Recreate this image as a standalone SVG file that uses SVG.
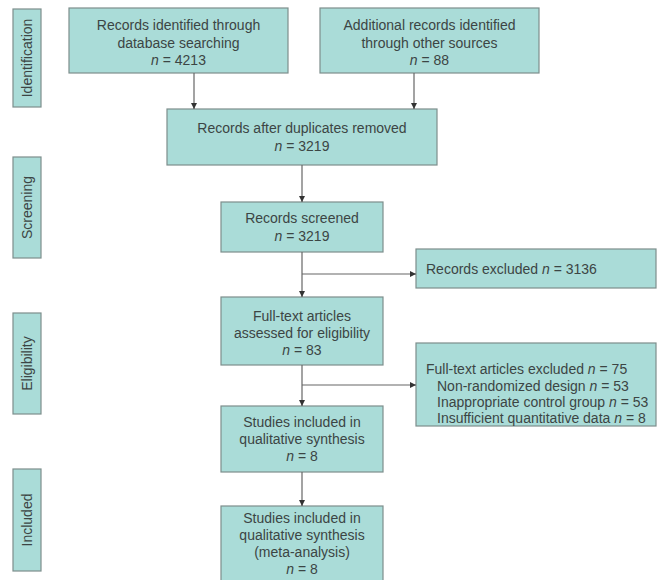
<svg xmlns="http://www.w3.org/2000/svg" width="657" height="580" viewBox="0 0 657 580">
<defs>
<style>
.box{fill:#aadcd8;stroke:#7d8e8c;stroke-width:1.2}
.t{font-family:"Liberation Sans",Arial,sans-serif;font-size:14px;fill:#3c4544}
.c{text-anchor:middle}
.i{font-style:italic}
.ln{stroke:#666;stroke-width:1.2;fill:none}
</style>
<marker id="ah" viewBox="0 0 10 10" refX="10" refY="5" markerWidth="6" markerHeight="6" orient="auto" markerUnits="userSpaceOnUse">
<path d="M0,0 L10,5 L0,10 z" fill="#333"/>
</marker>
</defs>
<rect width="657" height="580" fill="#fff"/>
<g id="stage-identification">
<rect class="box" x="13" y="9" width="28" height="98"/>
<text class="t c" transform="translate(32,58) rotate(-90)">Identification</text>
</g>
<g id="stage-screening">
<rect class="box" x="13" y="157" width="28" height="101"/>
<text class="t c" transform="translate(32,207.5) rotate(-90)">Screening</text>
</g>
<g id="stage-eligibility">
<rect class="box" x="13" y="313" width="28" height="101"/>
<text class="t c" transform="translate(32,363.5) rotate(-90)">Eligibility</text>
</g>
<g id="stage-included">
<rect class="box" x="13" y="469" width="28" height="102"/>
<text class="t c" transform="translate(32,520) rotate(-90)">Included</text>
</g>
<g id="n-database">
<rect class="box" x="69" y="8" width="219" height="65"/>
<text class="t c" x="178.5" y="30">Records identified through</text>
<text class="t c" x="178.5" y="47.5">database searching</text>
<text class="t c" x="178.5" y="65"><tspan class="i">n</tspan> = 4213</text>
</g>
<g id="n-other">
<rect class="box" x="320" y="8" width="219" height="65"/>
<text class="t c" x="429.5" y="30">Additional records identified</text>
<text class="t c" x="429.5" y="47.5">through other sources</text>
<text class="t c" x="429.5" y="65"><tspan class="i">n</tspan> = 88</text>
</g>
<g id="n-dedup">
<rect class="box" x="167" y="109" width="270" height="56"/>
<text class="t c" x="302" y="133">Records after duplicates removed</text>
<text class="t c" x="302" y="151"><tspan class="i">n</tspan> = 3219</text>
</g>
<g id="n-screened">
<rect class="box" x="221" y="202" width="162" height="50"/>
<text class="t c" x="302" y="223">Records screened</text>
<text class="t c" x="302" y="241"><tspan class="i">n</tspan> = 3219</text>
</g>
<g id="n-excluded">
<rect class="box" x="416" y="249" width="240" height="39"/>
<text class="t" x="426" y="274">Records excluded <tspan class="i">n</tspan> = 3136</text>
</g>
<g id="n-fulltext">
<rect class="box" x="221" y="297" width="162" height="68"/>
<text class="t c" x="302" y="321">Full-text articles</text>
<text class="t c" x="302" y="338">assessed for eligibility</text>
<text class="t c" x="302" y="355"><tspan class="i">n</tspan> = 83</text>
</g>
<g id="n-ft-excluded">
<rect class="box" x="416" y="343" width="240" height="83"/>
<text class="t" x="426" y="374">Full-text articles excluded <tspan class="i">n</tspan> = 75</text>
<text class="t" x="437" y="391">Non-randomized design <tspan class="i">n</tspan> = 53</text>
<text class="t" x="437" y="407">Inappropriate control group <tspan class="i">n</tspan> = 53</text>
<text class="t" x="437" y="423">Insufficient quantitative data <tspan class="i">n</tspan> = 8</text>
</g>
<g id="n-qualitative">
<rect class="box" x="221" y="406" width="162" height="66"/>
<text class="t c" x="302" y="427">Studies included in</text>
<text class="t c" x="302" y="444">qualitative synthesis</text>
<text class="t c" x="302" y="461"><tspan class="i">n</tspan> = 8</text>
</g>
<g id="n-meta">
<rect class="box" x="221" y="506" width="162" height="76"/>
<text class="t c" x="302" y="523">Studies included in</text>
<text class="t c" x="302" y="540">qualitative synthesis</text>
<text class="t c" x="302" y="557">(meta-analysis)</text>
<text class="t c" x="302" y="574"><tspan class="i">n</tspan> = 8</text>
</g>
<g id="connectors">
<line class="ln" x1="194" y1="73" x2="194" y2="109" marker-end="url(#ah)"/>
<line class="ln" x1="414" y1="73" x2="414" y2="109" marker-end="url(#ah)"/>
<line class="ln" x1="302" y1="165" x2="302" y2="202" marker-end="url(#ah)"/>
<line class="ln" x1="302" y1="252" x2="302" y2="297" marker-end="url(#ah)"/>
<line class="ln" x1="302" y1="274" x2="416" y2="274" marker-end="url(#ah)"/>
<line class="ln" x1="302" y1="365" x2="302" y2="406" marker-end="url(#ah)"/>
<line class="ln" x1="302" y1="385" x2="416" y2="385" marker-end="url(#ah)"/>
<line class="ln" x1="302" y1="472" x2="302" y2="506" marker-end="url(#ah)"/>
</g>
</svg>
